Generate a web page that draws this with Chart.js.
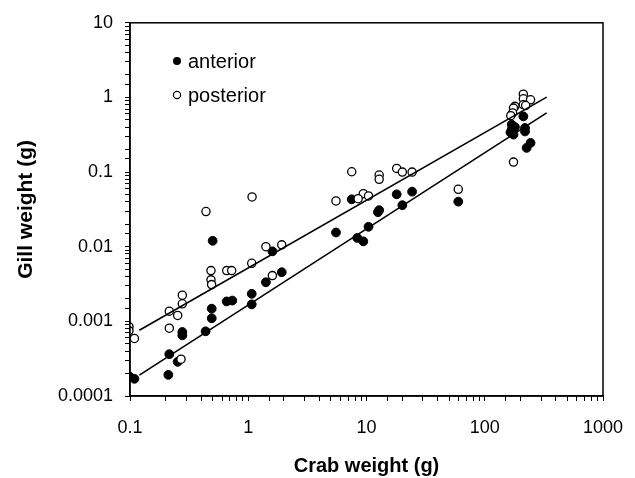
<!DOCTYPE html>
<html>
<head>
<meta charset="utf-8">
<script src="https://cdn.jsdelivr.net/npm/chart.js@4"></script>
<style>
  body { margin: 0; background: #fff; }
  #wrap { width: 635px; height: 478px; }
</style>
</head>
<body>
<div id="wrap"><canvas id="chartGill" width="635" height="478"></canvas></div>
<script>
// crab weight (g) vs gill weight (g)
const anteriorX = [0.097, 0.109, 0.1, 0.211, 0.215, 0.253, 0.277, 0.277, 0.436, 0.491, 0.491, 0.5,
  0.657, 0.733, 1.07, 1.07, 1.41, 1.6, 1.92, 5.52, 7.5, 8.36, 9.4, 10.4, 12.8, 12.5, 18, 20.1, 24.3,
  59.7, 212, 169, 169, 175, 180, 219, 219, 226, 244, 165];
const anteriorY = [0.000185, 0.00017, 0.00018, 0.000192, 0.000363, 0.000287, 0.00072, 0.00065, 0.000736,
  0.00148, 0.0011, 0.012, 0.00185, 0.0019, 0.00169, 0.00234, 0.00334, 0.00867, 0.00455, 0.0155, 0.0432,
  0.0131, 0.0118, 0.0185, 0.0309, 0.029, 0.0504, 0.036, 0.0547, 0.0402, 0.558, 0.433, 0.371, 0.318, 0.40,
  0.39, 0.35, 0.211, 0.246, 0.34];

const posteriorX = [0.098, 0.098, 0.109, 0.215, 0.277, 0.277, 0.253, 0.215, 0.27, 1.077, 0.439, 1.41,
  1.92, 1.07, 0.484, 0.657, 0.724, 0.484, 0.49, 1.6, 7.5, 5.52, 9.4, 8.5, 10.4, 12.8, 12.8, 18, 20.1,
  24.3, 59.7, 212, 212, 244, 180, 175, 172, 212, 222, 166, 175];
const posteriorY = [0.00085, 0.00075, 0.00059, 0.00137, 0.00224, 0.00172, 0.0012, 0.00081, 0.000311,
  0.0464, 0.0296, 0.01, 0.0106, 0.006, 0.00479, 0.00479, 0.00479, 0.0036, 0.00311, 0.0041, 0.101, 0.041,
  0.0514, 0.044, 0.0479, 0.0912, 0.08, 0.112, 0.1, 0.1, 0.0588, 1.107, 0.96, 0.93, 0.76, 0.72, 0.62,
  0.8, 0.78, 0.57, 0.136];

// fitted lines, end points
const fitX = [0.12, 334];
const fitAnteriorY = [0.00019, 0.62];
const fitPosteriorY = [0.00076, 1.01];

const xTickLabels = ['0.1', '1', '10', '100', '1000'];
const yTickLabels = ['0.0001', '0.001', '0.01', '0.1', '1', '10'];
const legendLabels = ['anterior', 'posterior'];

const toPoints = (xs, ys) => xs.map((x, i) => ({ x: x, y: ys[i] }));

function decadeLabel(value, labels) {
  const hit = labels.find(l => Math.abs(Math.log10(parseFloat(l)) - Math.log10(value)) < 1e-6);
  return hit || '';
}

Chart.defaults.font.family = "'Liberation Sans', Arial, sans-serif";
Chart.defaults.color = '#000';

const framePlugin = {
  id: 'frame',
  afterDatasetsDraw(chart) {
    const { ctx, chartArea: a } = chart;
    ctx.save();
    ctx.strokeStyle = '#000';
    ctx.lineWidth = 1.5;
    ctx.strokeRect(a.left, a.top, a.right - a.left, a.bottom - a.top);
    ctx.restore();
  }
};

const legendPlugin = {
  id: 'innerLegend',
  afterDraw(chart) {
    const ctx = chart.ctx;
    ctx.save();
    ctx.font = "20px 'Liberation Sans', Arial, sans-serif";
    ctx.textBaseline = 'middle';
    ctx.fillStyle = '#000';
    ctx.strokeStyle = '#000';
    ctx.lineWidth = 1.2;
    // filled marker
    ctx.beginPath(); ctx.arc(177, 61, 4, 0, Math.PI * 2); ctx.fill();
    ctx.fillText(legendLabels[0], 188, 62);
    // open marker
    ctx.beginPath(); ctx.arc(177, 95, 3.6, 0, Math.PI * 2);
    ctx.fillStyle = '#fff'; ctx.fill(); ctx.stroke();
    ctx.fillStyle = '#000';
    ctx.fillText(legendLabels[1], 188, 96);
    ctx.restore();
  }
};

new Chart(document.getElementById('chartGill').getContext('2d'), {
  type: 'scatter',
  data: {
    datasets: [
      {
        label: legendLabels[0],
        data: toPoints(anteriorX, anteriorY),
        backgroundColor: '#000',
        borderColor: '#000',
        borderWidth: 1,
        pointRadius: 4.4,
        order: 2
      },
      {
        label: legendLabels[1],
        data: toPoints(posteriorX, posteriorY),
        backgroundColor: '#fff',
        borderColor: '#000',
        borderWidth: 1.3,
        pointRadius: 4.1,
        order: 1
      },
      {
        type: 'line',
        data: toPoints(fitX, fitAnteriorY),
        borderColor: '#000',
        borderWidth: 1.6,
        pointRadius: 0,
        showLine: true,
        order: 0
      },
      {
        type: 'line',
        data: toPoints(fitX, fitPosteriorY),
        borderColor: '#000',
        borderWidth: 1.6,
        pointRadius: 0,
        showLine: true,
        order: 0
      }
    ]
  },
  options: {
    responsive: false,
    animation: false,
    layout: { padding: { top: 21, right: 32, left: 0, bottom: 0 } },
    plugins: {
      legend: { display: false },
      tooltip: { enabled: false }
    },
    scales: {
      x: {
        type: 'logarithmic',
        min: 0.1,
        max: 1000,
        afterFit: s => { s.height = 82; s.paddingLeft = 0; s.paddingRight = 0; },
        border: { color: '#000', width: 1.5 },
        grid: { drawOnChartArea: false, tickLength: 5, color: '#000', tickWidth: 1 },
        ticks: {
          autoSkip: false,
          maxRotation: 0,
          padding: 16,
          font: { size: 18 },
          callback: v => decadeLabel(v, xTickLabels)
        },
        title: {
          display: true,
          text: 'Crab weight (g)',
          font: { size: 20, weight: 'bold' },
          padding: { top: 0, bottom: 0 }
        }
      },
      y: {
        type: 'logarithmic',
        min: 0.0001,
        max: 10,
        afterFit: s => { s.width = 130; },
        border: { color: '#000', width: 1.5 },
        grid: { drawOnChartArea: false, tickLength: 5, color: '#000', tickWidth: 1 },
        ticks: {
          autoSkip: false,
          padding: 12,
          font: { size: 18 },
          callback: v => decadeLabel(v, yTickLabels)
        },
        title: {
          display: true,
          text: 'Gill weight (g)',
          font: { size: 21, weight: 'bold' },
          padding: { top: 14, bottom: 0 }
        }
      }
    }
  },
  plugins: [framePlugin, legendPlugin]
});
</script>
</body>
</html>
